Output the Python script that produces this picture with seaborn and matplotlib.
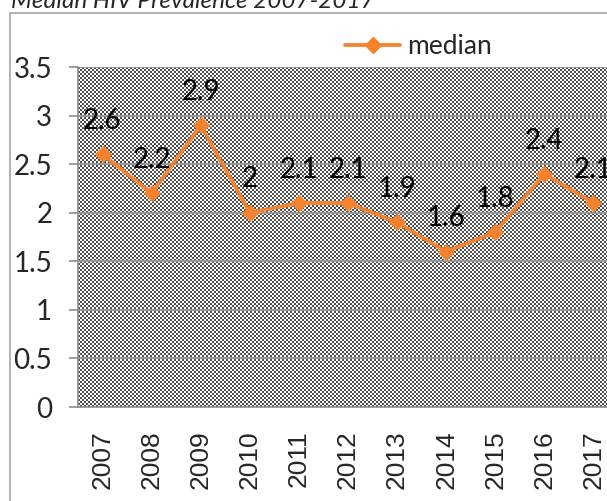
import numpy as np
import pandas as pd
import matplotlib
matplotlib.use("Agg")
import matplotlib.pyplot as plt
from matplotlib.patches import Rectangle
from matplotlib.lines import Line2D
from matplotlib.colors import ListedColormap
import seaborn as sns

years = ["2007", "2008", "2009", "2010", "2011", "2012", "2013", "2014", "2015", "2016", "2017"]
median = [2.6, 2.2, 2.9, 2.0, 2.1, 2.1, 1.9, 1.6, 1.8, 2.4, 2.1]
yticks = [0, 0.5, 1, 1.5, 2, 2.5, 3, 3.5]
ytick_labels = ["0", "0.5", "1", "1.5", "2", "2.5", "3", "3.5"]
point_labels = ["2.6", "2.2", "2.9", "2", "2.1", "2.1", "1.9", "1.6", "1.8", "2.4", "2.1"]
title = "Median HIV Prevalence 2007-2017"
series_name = "median"

sns.set_theme(style="white")
plt.rcParams["font.family"] = ["Lato", "DejaVu Sans"]

W, H = 607, 501
fig = plt.figure(figsize=(W / 100, H / 100), dpi=100)
fig.patch.set_facecolor("white")

# outer chart border
fig.add_artist(Rectangle((10 / W, -0.1), 1.2, (H - 13) / H + 0.1, transform=fig.transFigure,
                         fill=False, edgecolor="#a6a6a6", linewidth=1.2, zorder=0))

ax = fig.add_axes([78 / W, 94 / H, 540 / W, 340 / H])
ax.set_facecolor("none")

orange = "#F5822E"
df = pd.DataFrame({"idx": np.arange(len(years)), "value": median})

ax.set_xlim(-0.5, len(years) - 0.5)
ax.set_ylim(0, 3.5)

# checkerboard background pattern
ny, nx = 170, 270
yy, xx = np.mgrid[0:ny, 0:nx]
checker = ((xx + yy) % 2).astype(float)
ax.imshow(checker, extent=(-0.5, len(years) - 0.5, 0, 3.5), aspect="auto",
          cmap=ListedColormap(["#4d4d4d", "#ffffff"]), vmin=0, vmax=1,
          interpolation="nearest", zorder=0)

for yv in yticks[1:]:
    ax.axhline(yv, color="#969696", linewidth=1.3, zorder=1)

sns.lineplot(data=df, x="idx", y="value", ax=ax, color=orange, linewidth=2.7,
             marker="D", markersize=8, markeredgecolor=orange, zorder=3)

for i, (v, lab) in enumerate(zip(median, point_labels)):
    ax.annotate(lab, (i, v), xytext=(0, 24), textcoords="offset points",
                ha="center", va="center", fontsize=20, color="black", zorder=4,
                family=["Lato", "DejaVu Sans"])

ax.set_yticks(yticks)
ax.set_yticklabels(ytick_labels, fontsize=20)
ax.set_xticks(np.arange(len(years)))
ax.set_xticklabels(years, rotation=90, fontsize=19, family="Liberation Sans")
ax.set_xticks(np.arange(len(years) + 1) - 0.5, minor=True)
ax.tick_params(axis="x", which="major", length=0, pad=17)
ax.tick_params(axis="x", which="minor", length=7, width=1.2, color="#8c8c8c", direction="out")
ax.tick_params(axis="y", length=6.5, width=1.2, color="#8c8c8c", direction="out", pad=12, left=True)
ax.set_xlabel("")
ax.set_ylabel("")
for s in ["top", "right"]:
    ax.spines[s].set_visible(False)
for s in ["left", "bottom"]:
    ax.spines[s].set_color("#8c8c8c")
    ax.spines[s].set_linewidth(1.2)
    ax.spines[s].set_zorder(2)

handle = Line2D([], [], color=orange, linewidth=2.7, marker="D", markersize=8)
fig.legend([handle], [series_name], loc="center left", bbox_to_anchor=(345 / W, 1 - 47 / H),
           bbox_transform=fig.transFigure, frameon=False, fontsize=19, handlelength=2.1,
           handletextpad=0.25, borderpad=0, borderaxespad=0)

fig.text(11 / W, 1 - 8 / H, title, fontsize=17.5, style="italic", ha="left", va="baseline")

fig.savefig("out.png", dpi=100, facecolor="white")
